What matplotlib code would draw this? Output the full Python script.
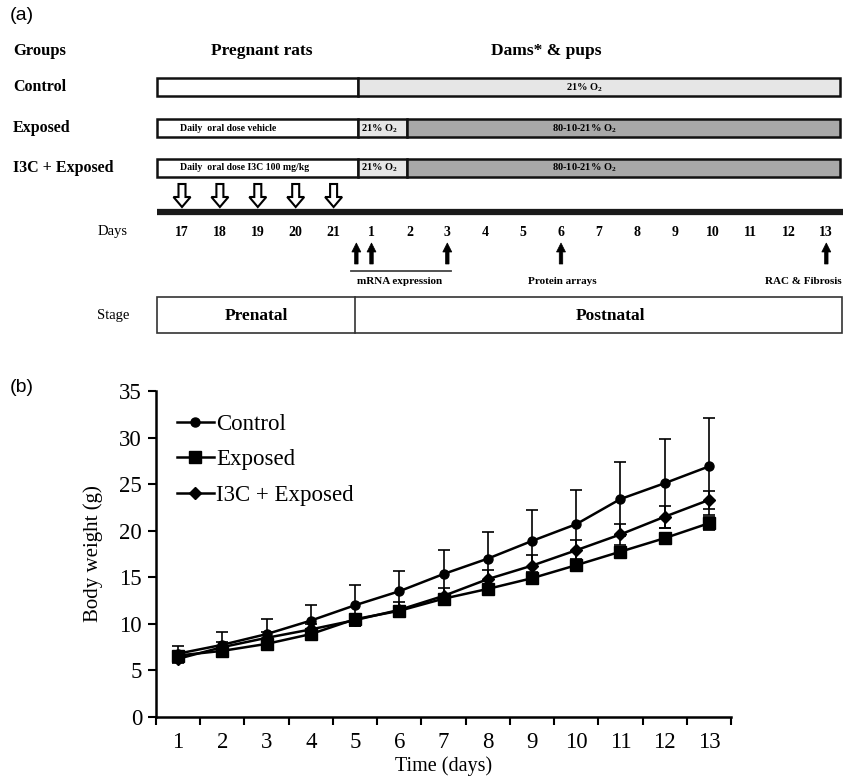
import matplotlib
matplotlib.use('Agg')
import matplotlib.pyplot as plt
from matplotlib.patches import Rectangle, FancyArrow
from matplotlib.lines import Line2D
import numpy as np

# ---------------- data ----------------
days = list(range(1, 14))
control = [6.8, 7.75, 8.9, 10.35, 12.0, 13.5, 15.35, 17.0, 18.9, 20.7, 23.4, 25.1, 26.9]
control_err = [0.8, 1.35, 1.6, 1.65, 2.2, 2.2, 2.55, 2.9, 3.35, 3.7, 4.0, 4.8, 5.2]
exposed = [6.6, 7.1, 7.85, 8.9, 10.5, 11.4, 12.7, 13.75, 14.9, 16.3, 17.75, 19.2, 20.8]
exposed_err = [0.4, 0.4, 0.4, 0.4, 0.5, 0.4, 0.4, 0.4, 0.4, 0.5, 0.5, 0.5, 0.7]
i3c = [6.25, 7.5, 8.5, 9.4, 10.4, 11.5, 13.0, 14.8, 16.25, 17.9, 19.6, 21.5, 23.3]
i3c_err = [0.5, 0.5, 0.6, 0.6, 0.6, 0.8, 0.9, 1.0, 1.1, 1.1, 1.15, 1.2, 1.0]
series_names = ["Control", "Exposed", "I3C + Exposed"]

timeline_days = ['17', '18', '19', '20', '21', '1', '2', '3', '4', '5', '6', '7',
                 '8', '9', '10', '11', '12', '13']
dose_days = ['17', '18', '19', '20', '21']
sampling_points = [4.6, 5, 7, 10, 17]   # positions along the timeline index
group_names = ["Control", "Exposed", "I3C + Exposed"]
prenatal_text = ["", "Daily  oral dose vehicle", "Daily  oral dose I3C 100 mg/kg"]
postnatal_text = ["21% O$_\\mathbf{2}$", "80-10-21% O$_\\mathbf{2}$", "80-10-21% O$_\\mathbf{2}$"]

# ---------------- style ----------------
plt.rcParams['font.family'] = ['Liberation Serif', 'DejaVu Serif']
plt.rcParams['mathtext.fontset'] = 'custom'
plt.rcParams['mathtext.rm'] = 'Liberation Serif'
plt.rcParams['mathtext.bf'] = 'Liberation Serif:bold'

fig = plt.figure(figsize=(8.43, 7.82), dpi=100)

# ---------------- panel (a): schematic in pixel space ----------------
axa = fig.add_axes([0, 0, 1, 1])
axa.set_xlim(0, 843)
axa.set_ylim(782, 0)
axa.axis('off')

sans = ['Liberation Sans', 'DejaVu Sans']
axa.text(10, 16, "(a)", family=sans, fontsize=14, va='center', ha='left')
axa.text(10, 388, "(b)", family=sans, fontsize=14, va='center', ha='left')

axa.text(13, 51, "Groups", fontsize=12, fontweight='bold', va='center')
axa.text(262, 51, "Pregnant rats", fontsize=12.5, fontweight='bold', va='center', ha='center')
axa.text(546, 51, "Dams* & pups", fontsize=12.5, fontweight='bold', va='center', ha='center')

bar_left, bar_birth, bar_split, bar_right = 157, 358, 407, 840
bar_h = 18
row_y = [87, 128, 167.5]
light, dark = '#e6e6e6', '#a8a8a8'
for gi, (name, y) in enumerate(zip(group_names, row_y)):
    axa.text(13, y, name, fontsize=11.5, fontweight='bold', va='center')
    axa.add_patch(Rectangle((bar_left, y - bar_h / 2), bar_birth - bar_left, bar_h,
                            fc='white', ec='#111111', lw=1.8))
    if gi == 0:
        axa.add_patch(Rectangle((bar_birth, y - bar_h / 2), bar_right - bar_birth, bar_h,
                                fc=light, ec='#111111', lw=1.8))
    else:
        axa.add_patch(Rectangle((bar_birth, y - bar_h / 2), bar_split - bar_birth, bar_h,
                                fc=light, ec='#111111', lw=1.8))
        axa.add_patch(Rectangle((bar_split, y - bar_h / 2), bar_right - bar_split, bar_h,
                                fc=dark, ec='#111111', lw=1.8))
        axa.text(361, y + 0.5, "21% O$_\\mathbf{2}$", fontsize=7.5, fontweight='bold',
                 va='center', ha='left')
        axa.text(180, y + 0.5, prenatal_text[gi], fontsize=7, fontweight='bold',
                 va='center', ha='left')
    axa.text(584, y + 0.5, postnatal_text[gi], fontsize=7.5, fontweight='bold',
             va='center', ha='center')

# timeline
day_x0, day_dx = 182, 37.9
def tx(i):
    return day_x0 + i * day_dx

for d in dose_days:
    i = timeline_days.index(d)
    axa.add_patch(FancyArrow(tx(i), 184, 0, 23, width=7, head_width=17, head_length=10,
                             length_includes_head=True, fc='white', ec='black', lw=1.5))

axa.plot([157, 843], [212, 212], color='#1a1a1a', lw=4.5, solid_capstyle='butt')
axa.text(113, 232, "Days", fontsize=10.5, va='center', ha='center')
for i, d in enumerate(timeline_days):
    axa.text(tx(i), 232, d, fontsize=10, fontweight='bold', va='center', ha='center')

for p in sampling_points:
    axa.add_patch(FancyArrow(tx(p), 264, 0, -21, width=3.5, head_width=9, head_length=9,
                             length_includes_head=True, fc='black', ec='black', lw=0.5))

axa.plot([tx(4.45), tx(7.1)], [271, 271], color='#444444', lw=1.3)
axa.text(400, 281, "mRNA expression", fontsize=8, fontweight='bold', va='center', ha='center')
axa.text(562, 281, "Protein arrays", fontsize=8, fontweight='bold', va='center', ha='center')
axa.text(803, 281, "RAC & Fibrosis", fontsize=8, fontweight='bold', va='center', ha='center')

axa.text(113, 315, "Stage", fontsize=10.5, va='center', ha='center')
axa.add_patch(Rectangle((157, 297), 685, 36, fc='white', ec='#333333', lw=1.2))
axa.plot([355, 355], [297, 333], color='#333333', lw=1.2)
axa.text(256, 316, "Prenatal", fontsize=12.5, fontweight='bold', va='center', ha='center')
axa.text(610, 316, "Postnatal", fontsize=12.5, fontweight='bold', va='center', ha='center')

# ---------------- panel (b): body weight chart ----------------
ax = fig.add_axes([156 / 843, 65 / 782, 575 / 843, 326 / 782])
x = np.array(days)
specs = [
    (control, control_err, 'o', 6.5),
    (exposed, exposed_err, 's', 8),
    (i3c, i3c_err, 'D', 6.5),
]
handles = []
for (vals, err, mk, ms), name in zip(specs, series_names):
    ax.errorbar(x, vals, yerr=err, fmt='-', marker=mk, ms=ms, color='black',
                lw=1.8, elinewidth=1.2, capsize=4, capthick=1.2, label=name)
    handles.append(Line2D([], [], color='black', marker=mk, ms=ms, lw=1.8))

ax.set_xlim(0.5, 13.5)
ax.set_ylim(0, 35)
ax.set_yticks(np.arange(0, 36, 5))
ax.set_xticks(np.arange(0.5, 14, 1))
ax.set_xticklabels([])
ax.set_xticks(x, minor=True)
ax.set_xticklabels([str(d) for d in days], minor=True)
ax.tick_params(axis='x', which='minor', length=0, labelsize=16.5, pad=11)
ax.tick_params(axis='x', which='major', length=6, width=1.5, direction='out')
ax.tick_params(axis='y', length=6, width=1.5, direction='out', labelsize=16.5, pad=4)
for s in ['top', 'right']:
    ax.spines[s].set_visible(False)
for s in ['left', 'bottom']:
    ax.spines[s].set_linewidth(1.8)
ax.set_ylabel("Body weight (g)", fontsize=15, labelpad=12)
ax.set_xlabel("Time (days)", fontsize=14.5, labelpad=2)

ax.legend(handles=handles, labels=series_names, loc='upper left', frameon=False,
          fontsize=16.5, handlelength=1.6, handletextpad=0.1, labelspacing=0.62,
          borderpad=0, borderaxespad=0, numpoints=1,
          bbox_to_anchor=(177 / 843, 1 - 414 / 782), bbox_transform=fig.transFigure)

fig.savefig("out.png", dpi=100)
